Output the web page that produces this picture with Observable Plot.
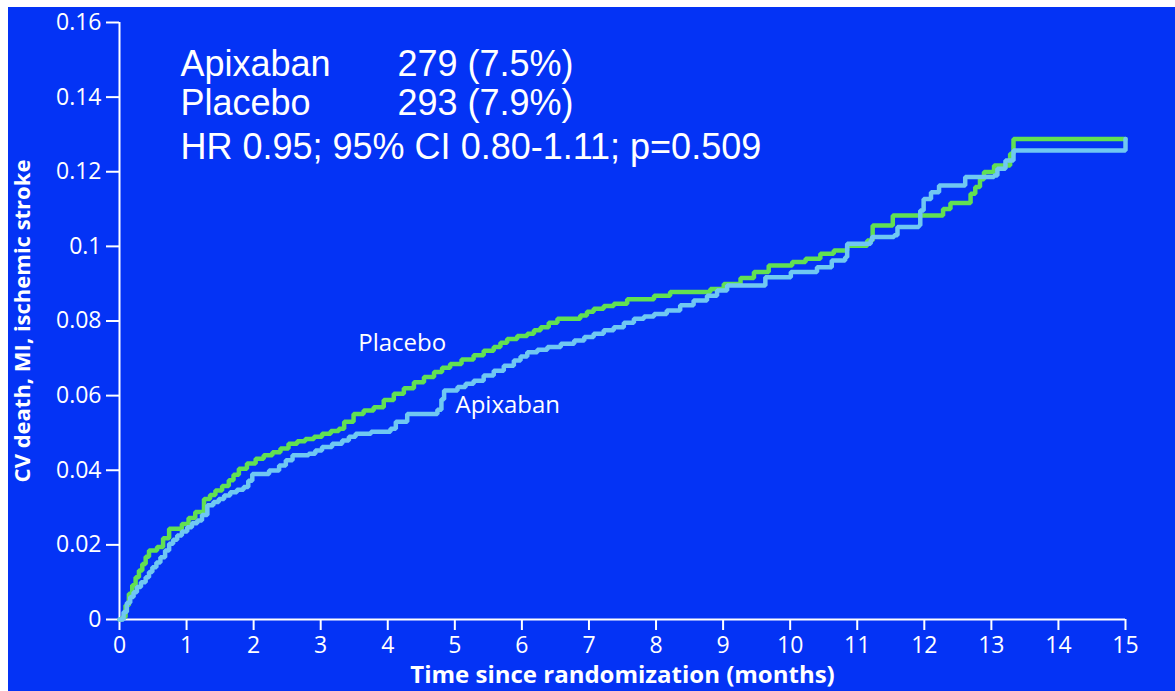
<!DOCTYPE html>
<html><head><meta charset="utf-8">
<script src="https://cdn.jsdelivr.net/npm/d3@7"></script>
<script src="https://cdn.jsdelivr.net/npm/@observablehq/plot@0.6"></script>
<style>
html,body{margin:0;padding:0;background:#ffffff;}
#chart{position:absolute;left:8px;top:7px;width:1167px;height:684px;background:#0433f5;}
#chart svg{display:block;}
</style></head><body><div id="chart"></div>
<script>
// Placebo (green) Kaplan–Meier cumulative incidence: time (months), value
const placeboTime = [0,0.04,0.09,0.14,0.19,0.24,0.29,0.34,0.39,0.44,0.56,0.65,0.74,0.93,1.03,1.13,1.26,1.35,1.43,1.53,1.63,1.70,1.78,1.90,2.03,2.15,2.28,2.40,2.52,2.65,2.77,2.90,3.02,3.15,3.27,3.35,3.49,3.64,3.79,3.94,4.09,4.24,4.39,4.54,4.69,4.81,4.93,5.10,5.28,5.43,5.58,5.68,5.78,5.93,6.08,6.18,6.28,6.40,6.53,6.87,6.97,7.07,7.22,7.37,7.57,7.97,8.21,8.81,9.01,9.26,9.46,9.68,10.03,10.23,10.45,10.65,10.85,11.15,11.23,11.53,12.28,12.39,12.69,12.76,12.83,12.89,13.04,13.28,13.33,15.0];
const placeboValue = [0,0.0006,0.0038,0.0069,0.0092,0.0113,0.0131,0.0149,0.0168,0.0185,0.0194,0.0218,0.0243,0.0256,0.0272,0.0288,0.0323,0.0334,0.0346,0.0358,0.0373,0.0388,0.0404,0.0418,0.0431,0.0440,0.0448,0.0458,0.0471,0.0478,0.0484,0.0490,0.0498,0.0505,0.0511,0.0530,0.0551,0.0560,0.0569,0.0588,0.0605,0.0620,0.0636,0.0650,0.0663,0.0675,0.0685,0.0697,0.0708,0.0720,0.0730,0.0742,0.0752,0.0760,0.0766,0.0775,0.0783,0.0795,0.0806,0.0815,0.0825,0.0833,0.0840,0.0846,0.0858,0.0868,0.0878,0.0886,0.0899,0.0915,0.0931,0.0949,0.0958,0.0967,0.0980,0.0989,0.1002,0.1016,0.1056,0.1083,0.1100,0.1116,0.1141,0.1159,0.1180,0.1199,0.1217,0.1248,0.1288,0.1288];

// Apixaban (light blue)
const apixabanTime = [0,0.06,0.11,0.16,0.21,0.26,0.32,0.39,0.44,0.49,0.55,0.61,0.68,0.74,0.80,0.86,0.93,1.01,1.08,1.16,1.23,1.31,1.40,1.48,1.56,1.65,1.75,1.85,1.92,1.98,2.23,2.38,2.48,2.58,2.82,2.92,3.02,3.17,3.32,3.42,3.52,3.75,4.04,4.12,4.29,4.74,4.80,4.84,5.04,5.16,5.28,5.43,5.58,5.73,5.88,5.98,6.08,6.23,6.38,6.58,6.78,6.93,7.07,7.22,7.37,7.52,7.67,7.82,7.97,8.16,8.36,8.56,8.76,8.91,9.06,9.63,10.01,10.40,10.62,10.82,10.85,11.20,11.22,11.55,11.60,11.92,11.94,11.99,12.10,12.22,12.61,13.04,13.09,13.21,13.33,15.0];
const apixabanValue = [0,0.0020,0.0045,0.0060,0.0073,0.0087,0.0100,0.0113,0.0127,0.0140,0.0153,0.0167,0.0185,0.0203,0.0214,0.0225,0.0236,0.0247,0.0258,0.0265,0.0280,0.0306,0.0315,0.0323,0.0332,0.0341,0.0348,0.0355,0.0372,0.0390,0.0399,0.0413,0.0427,0.0440,0.0444,0.0453,0.0462,0.0471,0.0480,0.0490,0.0498,0.0503,0.0511,0.0530,0.0551,0.0562,0.0590,0.0614,0.0623,0.0632,0.0640,0.0654,0.0667,0.0680,0.0694,0.0705,0.0716,0.0723,0.0730,0.0739,0.0748,0.0757,0.0766,0.0775,0.0783,0.0795,0.0806,0.0812,0.0819,0.0828,0.0842,0.0855,0.0868,0.0882,0.0895,0.0917,0.0931,0.0944,0.0962,0.0971,0.1007,0.1016,0.1025,0.1030,0.1052,0.1056,0.1096,0.1127,0.1145,0.1163,0.1186,0.1190,0.1208,0.1230,0.1257,0.1288];

const xTicks = [0,1,2,3,4,5,6,7,8,9,10,11,12,13,14,15];
const yTicks = [0,0.02,0.04,0.06,0.08,0.1,0.12,0.14,0.16];
const yTickLabels = ["0","0.02","0.04","0.06","0.08","0.1","0.12","0.14","0.16"];

const xLabel = "Time since randomization (months)";
const yLabel = "CV death, MI, ischemic stroke";

const statNames = ["Apixaban","Placebo"];
const statValues = ["279 (7.5%)","293 (7.9%)"];
const hrText = "HR 0.95; 95% CI 0.80-1.11; p=0.509";

// curve labels anchored in data space (time, value)
const curveLabelText = ["Placebo","Apixaban"];
const curveLabelTime = [3.56, 5.01];
const curveLabelValue = [0.0740, 0.0574];

const placebo = placeboTime.map((t,i)=>({t, v: placeboValue[i]}));
const apixaban = apixabanTime.map((t,i)=>({t, v: apixabanValue[i]}));
const curveLabels = curveLabelText.map((s,i)=>({s, t: curveLabelTime[i], v: curveLabelValue[i]}));

const green = "#62e052";
const lightBlue = "#70c8f2";
const annoFont = "Liberation Sans, Arial, sans-serif";
const annoSize = 36;

const chart = Plot.plot({
  width: 1167,
  height: 684,
  marginLeft: 111,
  marginTop: 15,
  marginBottom: 72,
  marginRight: 50,
  style: {background: "transparent", color: "white", fontFamily: "Open Sans, sans-serif", fontSize: "23px", overflow: "visible"},
  x: {domain: [0, 15]},
  y: {domain: [0, 0.16]},
  marks: [
    Plot.axisX({ticks: xTicks, tickSize: 11, tickPadding: 6, strokeWidth: 2, label: null, tickFormat: d => String(d), fontSize: 23}),
    Plot.axisY({ticks: yTicks, tickSize: 13, tickPadding: 5, strokeWidth: 2, label: null, tickFormat: d => yTickLabels[yTicks.indexOf(d)], fontSize: 23}),
    Plot.ruleX([0], {y1: 0, y2: 0.16, stroke: "white", strokeWidth: 2}),
    Plot.ruleY([0], {x1: 0, x2: 15, stroke: "white", strokeWidth: 2}),
    Plot.line(placebo, {x: "t", y: "v", curve: "step-after", stroke: green, strokeWidth: 4.5, strokeLinejoin: "miter"}),
    Plot.line(apixaban, {x: "t", y: "v", curve: "step-after", stroke: lightBlue, strokeWidth: 4.5, strokeLinejoin: "miter"}),
    Plot.text(curveLabels, {x: "t", y: "v", text: "s", textAnchor: "start", fill: "white", fontSize: 24}),
    Plot.text([yLabel], {frameAnchor: "left", rotate: -90, dx: -97, textAnchor: "middle", lineAnchor: "middle", fill: "white", fontWeight: "bold", fontSize: 22}),
    Plot.text([xLabel], {frameAnchor: "bottom", dy: 56, textAnchor: "middle", lineAnchor: "middle", fill: "white", fontWeight: "bold", fontSize: 24}),
    Plot.text([statNames[0]], {frameAnchor: "top-left", dx: 61, dy: 42, textAnchor: "start", lineAnchor: "middle", fill: "white", fontSize: annoSize, fontFamily: annoFont}),
    Plot.text([statValues[0]], {frameAnchor: "top-left", dx: 278, dy: 42, textAnchor: "start", lineAnchor: "middle", fill: "white", fontSize: annoSize, fontFamily: annoFont}),
    Plot.text([statNames[1]], {frameAnchor: "top-left", dx: 61, dy: 81, textAnchor: "start", lineAnchor: "middle", fill: "white", fontSize: annoSize, fontFamily: annoFont}),
    Plot.text([statValues[1]], {frameAnchor: "top-left", dx: 278, dy: 81, textAnchor: "start", lineAnchor: "middle", fill: "white", fontSize: annoSize, fontFamily: annoFont}),
    Plot.text([hrText], {frameAnchor: "top-left", dx: 61, dy: 125, textAnchor: "start", lineAnchor: "middle", fill: "white", fontSize: annoSize, fontFamily: annoFont})
  ]
});
document.getElementById("chart").appendChild(chart);
</script>
</body></html>
